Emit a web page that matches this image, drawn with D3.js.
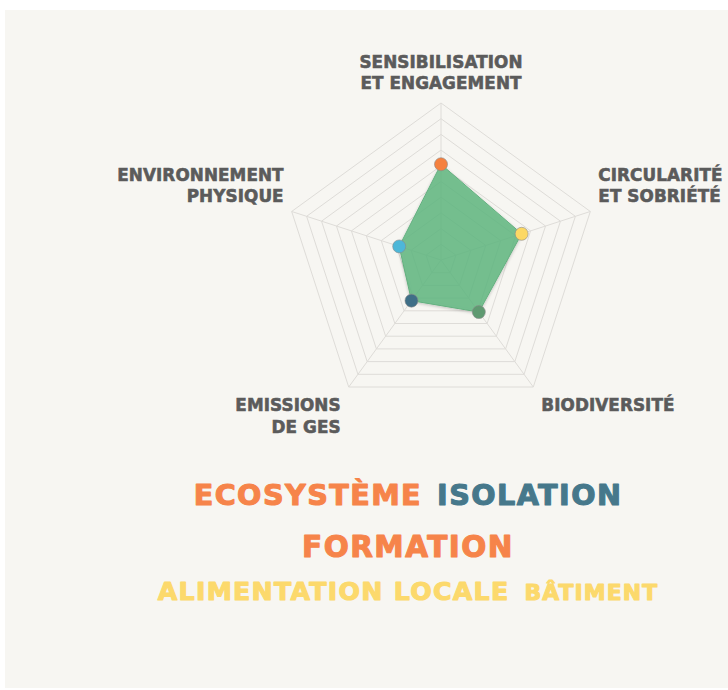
<!DOCTYPE html>
<html>
<head>
<meta charset="utf-8">
<script src="https://cdn.jsdelivr.net/npm/d3@7"></script>
<style>
  body { margin: 0; background: #fff; }
  svg { display: block; }
  .axis-label { font-family: "DejaVu Sans", sans-serif; font-weight: bold; fill: #5b5b5b; letter-spacing: 0.1px; }
  .word { font-family: "DejaVu Sans", sans-serif; font-weight: bold; letter-spacing: 0.05em; }
</style>
</head>
<body>
<svg width="728" height="690"></svg>
<script>
// axes, clockwise from the top
const AXES = [
  ['SENSIBILISATION', 'ET ENGAGEMENT'],
  ['CIRCULARITÉ', 'ET SOBRIÉTÉ'],
  ['BIODIVERSITÉ'],
  ['EMISSIONS', 'DE GES'],
  ['ENVIRONNEMENT', 'PHYSIQUE']
]
const SCORES = [6.1, 5.4, 4.1, 3.2, 2.8]
const DOT_COLORS = ['#f5813f', '#fcd864', '#5f9a71', '#3f6f87', '#4db7d8']
const MAX_SCORE = 10

// word cloud
const WORDS = ['ECOSYSTÈME', 'ISOLATION', 'FORMATION', 'ALIMENTATION LOCALE', 'BÂTIMENT']
const WORD_WEIGHTS = [26, 26, 27, 22, 18]
const WORD_COLORS = ['#f6844a', '#46788b', '#f6844a', '#fcd96c', '#fcd96c']
const WORD_ROWS = [[0, 1], [2], [3, 4]]

const svg = d3.select('svg')

svg.append('rect')
  .attr('x', 5).attr('y', 10)
  .attr('width', 723).attr('height', 678)
  .attr('fill', '#f7f6f2')

const cx = 441, cy = 260, R = 157
const rScale = d3.scaleLinear().domain([0, MAX_SCORE]).range([0, R])
const angle = d3.scaleLinear().domain([0, AXES.length]).range([0, 2 * Math.PI])

const point = (i, v) => {
  const a = angle(i)
  return [cx + rScale(v) * Math.sin(a), cy - rScale(v) * Math.cos(a)]
}

const chart = svg.append('g')

// rings
const ringLine = d3.line().curve(d3.curveLinearClosed)
chart.selectAll('.ring')
  .data(d3.range(1, MAX_SCORE + 1))
  .enter()
  .append('path')
  .classed('ring', true)
  .attr('d', lvl => ringLine(AXES.map((_, i) => point(i, lvl))))
  .attr('fill', 'none')
  .attr('stroke', '#dedcd8')
  .attr('stroke-width', 1)

// spokes
chart.selectAll('.spoke')
  .data(AXES)
  .enter()
  .append('line')
  .classed('spoke', true)
  .attr('x1', cx).attr('y1', cy)
  .attr('x2', (d, i) => point(i, MAX_SCORE)[0])
  .attr('y2', (d, i) => point(i, MAX_SCORE)[1])
  .attr('stroke', '#dedcd8')

// shadow for the area
const defs = svg.append('defs')
const f = defs.append('filter').attr('id', 'shadow')
  .attr('x', '-20%').attr('y', '-20%').attr('width', '140%').attr('height', '140%')
f.append('feDropShadow').attr('dx', 0).attr('dy', 1).attr('stdDeviation', 1.5)
  .attr('flood-color', '#000').attr('flood-opacity', 0.25)

chart.append('path')
  .attr('d', ringLine(SCORES.map((v, i) => point(i, v))))
  .attr('fill', '#5fb880')
  .attr('fill-opacity', 0.82)
  .attr('stroke', '#63b07f')
  .attr('stroke-width', 1)
  .attr('filter', 'url(#shadow)')

chart.selectAll('.dot')
  .data(SCORES)
  .enter()
  .append('circle')
  .classed('dot', true)
  .attr('cx', (v, i) => point(i, v)[0])
  .attr('cy', (v, i) => point(i, v)[1])
  .attr('r', 6.5)
  .attr('fill', (v, i) => DOT_COLORS[i])
  .attr('stroke', '#8a8a8a')
  .attr('stroke-width', 0.6)

// axis labels
const lineH = 21.5
AXES.forEach((lines, i) => {
  const [vx, vy] = point(i, MAX_SCORE)
  const s = Math.sin(angle(i)), c = Math.cos(angle(i))
  let anchor = 'middle', x = vx, firstBase
  if (s > 0.1) { anchor = 'start'; x = vx + 8 }
  if (s < -0.1) { anchor = 'end'; x = vx - 8 }
  if (c > 0.9) firstBase = vy - 14 - (lines.length - 1) * lineH
  else if (c > 0) firstBase = vy - 9 - (lines.length - 1) * lineH
  else firstBase = vy + 24
  const t = chart.append('text')
    .classed('axis-label', true)
    .attr('text-anchor', anchor)
    .attr('font-size', 16.8)
    .attr('stroke', '#5b5b5b')
    .attr('stroke-width', 0.6)
  lines.forEach((ln, k) => {
    t.append('tspan').attr('x', x).attr('y', firstBase + k * lineH).text(ln)
  })
})

// word cloud
const sizeScale = d3.scaleLinear().domain([18, 27]).range([21.9, 29.5])
const cloudCx = 408, rowBase = [505, 557, 600], gap = 15
WORD_ROWS.forEach((row, r) => {
  const g = svg.append('g')
  const nodes = row.map(w => g.append('text')
    .classed('word', true)
    .attr('font-size', sizeScale(WORD_WEIGHTS[w]))
    .attr('fill', WORD_COLORS[w])
    .attr('stroke', WORD_COLORS[w])
    .attr('stroke-width', 1.1)
    .attr('stroke-linejoin', 'round')
    .attr('y', rowBase[r])
    .text(WORDS[w]))
  const widths = nodes.map(n => n.node().getComputedTextLength())
  let x = cloudCx - (d3.sum(widths) + gap * (row.length - 1)) / 2
  nodes.forEach((n, k) => {
    n.attr('x', x)
    x += widths[k] + gap
  })
})
</script>
</body>
</html>
